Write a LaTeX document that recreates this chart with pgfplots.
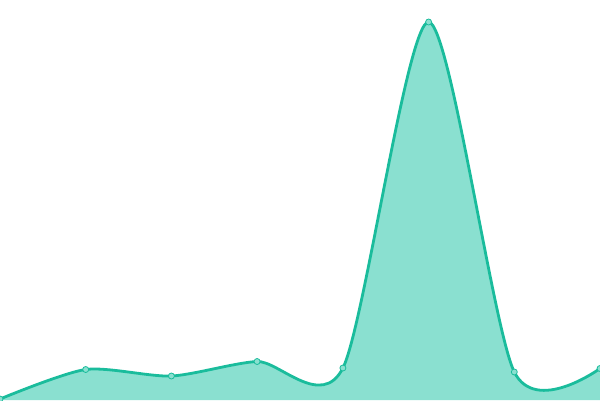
\documentclass[border=0pt]{standalone}
\usepackage{pgfplots}
\pgfplotsset{compat=1.18}
\definecolor{turq}{HTML}{1ABC9C}
\definecolor{turqfill}{HTML}{8AE0D0}
\begin{document}
\begin{tikzpicture}
\begin{axis}[
    scale only axis,
    width=600bp, height=400bp,
    xmin=0, xmax=600,
    ymin=0, ymax=400,
    hide axis,
    clip marker paths=true,
]
\addplot[draw=none, fill=turqfill, smooth, tension=0.45] coordinates {
    (0,1) (85.7,30.5) (171.4,24) (257.1,38.5) (342.9,32) (428.6,378) (514.3,28) (600,31.5)
} \closedcycle;
\addplot[turq, line width=2.8bp, smooth, tension=0.45,
    mark=*, mark size=3bp,
    mark options={fill=turqfill, draw=turq, line width=0.8bp}] coordinates {
    (0,1) (85.7,30.5) (171.4,24) (257.1,38.5) (342.9,32) (428.6,378) (514.3,28) (600,31.5)
};
\end{axis}
\pgfresetboundingbox
\path (current axis.south west) rectangle (current axis.north east);
\end{tikzpicture}
\end{document}
